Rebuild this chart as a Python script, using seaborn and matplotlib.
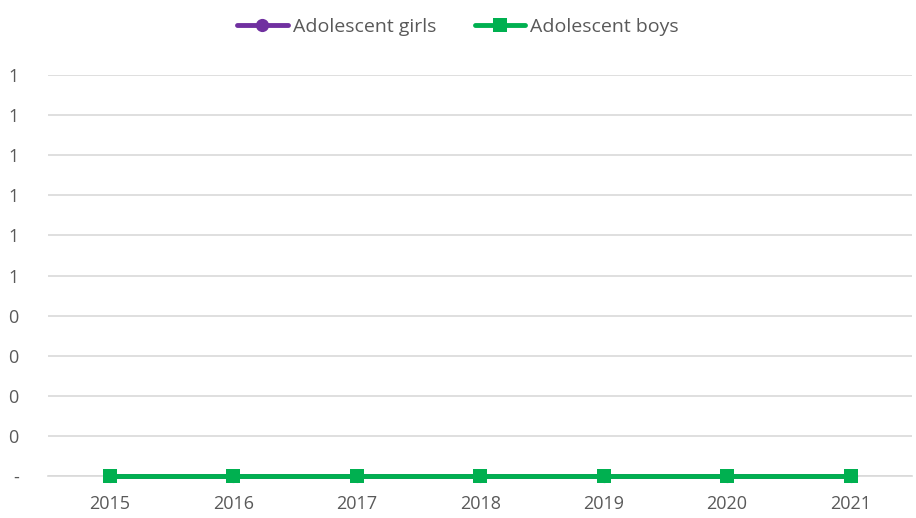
import matplotlib
matplotlib.use("Agg")
import matplotlib.pyplot as plt
import seaborn as sns
import pandas as pd
from matplotlib.ticker import FixedLocator

# data
years = ["2015", "2016", "2017", "2018", "2019", "2020", "2021"]
girls = [0, 0, 0, 0, 0, 0, 0]
boys = [0, 0, 0, 0, 0, 0, 0]
y_ticks = [0, 0.1, 0.2, 0.3, 0.4, 0.5, 0.6, 0.7, 0.8, 0.9, 1.0]
y_labels = ["-", "0", "0", "0", "0", "1", "1", "1", "1", "1", "1"]

df = pd.DataFrame({
    "Year": years * 2,
    "Value": girls + boys,
    "Series": ["Adolescent girls"] * len(years) + ["Adolescent boys"] * len(years),
})

sns.set_style("white")
plt.rcParams["font.family"] = ["Open Sans", "DejaVu Sans"]
text_col = "#595959"

fig = plt.figure(figsize=(9.16, 5.18), dpi=100)
ax = fig.add_axes([0.0524, 0.0811, 0.9436, 0.774])

sns.lineplot(data=df, x="Year", y="Value", hue="Series", style="Series",
             palette={"Adolescent girls": "#7030A0", "Adolescent boys": "#00B050"},
             markers={"Adolescent girls": "o", "Adolescent boys": "s"},
             dashes=False, linewidth=3.5, markersize=9.5, markeredgewidth=0,
             ax=ax, legend=True)
for ln in ax.lines:
    ln.set_clip_on(False)
    ln.set_zorder(5)

ax.set_xlim(-0.5, len(years) - 0.5)
ax.set_ylim(0, 1.0)
ax.set_yticks(y_ticks)
ax.set_yticklabels(y_labels)
ax.grid(axis="y", color="#D9D9D9", linewidth=1.2)
ax.set_axisbelow(True)
for s in ["top", "right", "left"]:
    ax.spines[s].set_visible(False)
ax.spines["bottom"].set_color("#D9D9D9")
ax.spines["bottom"].set_linewidth(1.2)
ax.set_xlabel("")
ax.set_ylabel("")
ax.tick_params(axis="y", length=0, pad=21, labelsize=13, labelcolor=text_col)
ax.tick_params(axis="x", which="major", length=0, pad=14, labelsize=13, labelcolor=text_col)
ax.xaxis.set_minor_locator(FixedLocator([i - 0.5 for i in range(len(years) + 1)]))
ax.tick_params(axis="x", which="minor", length=7, color="#D9D9D9", width=1.2, direction="out")

handles, labels = ax.get_legend_handles_labels()
ax.legend(handles, labels, loc="center", bbox_to_anchor=(0.5, 0.948),
          bbox_transform=fig.transFigure, ncol=2, frameon=False,
          fontsize=14, labelcolor=text_col, handlelength=2.6,
          handletextpad=0.25, columnspacing=2.0)

fig.savefig("out.png", dpi=100)
